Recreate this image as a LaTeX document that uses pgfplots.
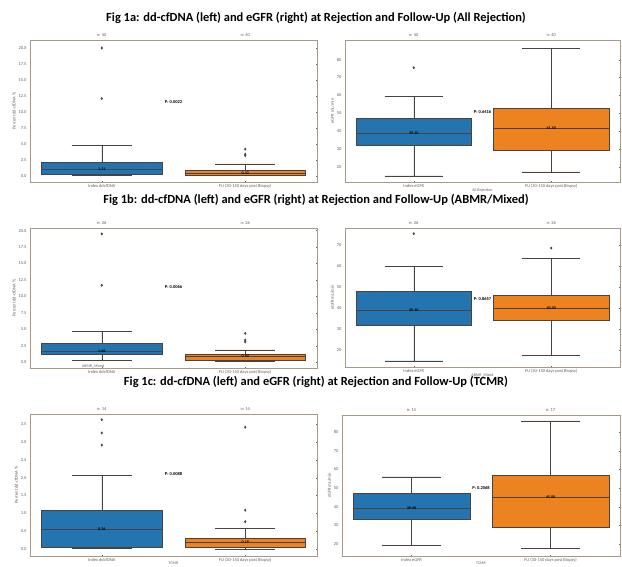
\documentclass[border=0pt]{standalone}
\usepackage{pgfplots}
\pgfplotsset{compat=1.18}
\usepgfplotslibrary{statistics}
\usepackage{fontspec}
\setmainfont{Carlito}
\definecolor{sbblue}{HTML}{2474B0}
\definecolor{sborange}{HTML}{EC8220}
\definecolor{edge}{HTML}{4A4240}
\definecolor{framec}{HTML}{A89888}
\definecolor{tickc}{HTML}{606060}
\newcommand{\tfont}{\fontsize{4.5}{5}\selectfont}
\pgfplotsset{
  panel/.style={
    scale only axis, anchor=south west, clip=false,
    axis line style={framec, line width=0.6pt},
    xmin=0.5, xmax=2.5, xtick={1,2},
    major tick length=1.5pt, tick style={tickc, line width=0.3pt},
    ticklabel style={font=\tfont, text=tickc},
    xticklabel style={yshift=1pt},
    /pgf/number format/assume math mode=true,
    ylabel style={font=\tfont, text=tickc, yshift=-4pt},
    xlabel style={font=\fontsize{4}{4.5}\selectfont, text=tickc, yshift=7pt},
    boxplot/draw direction=y,
    boxplot/box extend=0.84, boxplot/whisker extend=0.42,
  },
  pct/.style={yticklabel style={/pgf/number format/.cd, fixed, fixed zerofill, precision=1}},
  bxb/.style={fill=sbblue, draw=edge, line width=0.5pt, mark=diamond*, mark size=1.1pt, mark options={fill=edge, draw=edge}},
  bxo/.style={fill=sborange, draw=edge, line width=0.5pt, mark=diamond*, mark size=1.1pt, mark options={fill=edge, draw=edge}},
}
\newcommand{\nlab}[2]{\node[font=\tfont, anchor=south, text=tickc] at (rel axis cs:0.25,1) {n: #1};
  \node[font=\tfont, anchor=south, text=tickc] at (rel axis cs:0.75,1) {n: #2};}
\newcommand{\mlab}[3]{\node[font=\fontsize{4}{5}\selectfont\bfseries] at (axis cs:#1,#2) {#3};}
\begin{document}
\begin{tikzpicture}
\useasboundingbox (0,0) rectangle (622bp,567bp);
% titles
\node[font=\bfseries\fontsize{12.5}{14}\selectfont] at (316bp,549bp) {Fig 1a: dd-cfDNA (left) and eGFR (right) at Rejection and Follow-Up (All Rejection)};
\node[font=\bfseries\fontsize{12.5}{14}\selectfont] at (316bp,367bp) {Fig 1b: dd-cfDNA (left) and eGFR (right) at Rejection and Follow-Up (ABMR/Mixed)};
\node[font=\bfseries\fontsize{12.5}{14}\selectfont] at (316bp,185bp) {Fig 1c: dd-cfDNA (left) and eGFR (right) at Rejection and Follow-Up (TCMR)};

% ---------- 1a left ----------
\begin{axis}[panel, pct, at={(30bp,385bp)}, width=287bp, height=142bp,
  ymin=-0.94, ymax=21.25, ytick={0,2.5,...,20},
  xticklabels={Index ddcfDNA, FU (30-150 days post Biopsy)},
  ylabel={Percent dd-cfDNA \%}]
\addplot[bxb, boxplot prepared={draw position=1, lower whisker=0.05, lower quartile=0.25, median=1.1, upper quartile=2.2, upper whisker=4.8}]
  table[row sep=\\, y index=0] {20.0\\ 12.1\\};
\addplot[bxo, boxplot prepared={draw position=2, lower whisker=0.05, lower quartile=0.1, median=0.42, upper quartile=0.95, upper whisker=1.9}]
  table[row sep=\\, y index=0] {4.2\\ 3.4\\ 3.2\\};
\mlab{1}{1.1}{1.11}
\mlab{2}{0.42}{0.42}
\node[font=\fontsize{4.5}{5}\selectfont\bfseries] at (axis cs:1.5,11.6) {P: 0.0022};
\nlab{40}{40}
\end{axis}

% ---------- 1a right ----------
\begin{axis}[panel, at={(345bp,385bp)}, width=275bp, height=142bp,
  ymin=11.6, ymax=91, ytick={20,30,...,80},
  xticklabels={Index eGFR, FU (30-150 days post Biopsy)},
  ylabel={eGFR mL/min}, xlabel={All Rejection}]
\addplot[bxb, boxplot prepared={draw position=1, lower whisker=15, lower quartile=32.1, median=39.1, upper quartile=47.5, upper whisker=59.3}]
  table[row sep=\\, y index=0] {75.5\\};
\addplot[bxo, boxplot prepared={draw position=2, lower whisker=17.2, lower quartile=29.3, median=41.5, upper quartile=53.1, upper whisker=86.4}]
  coordinates {};
\mlab{1}{39.1}{39.10}
\mlab{2}{41.5}{41.50}
\node[font=\fontsize{4.5}{5}\selectfont\bfseries] at (axis cs:1.5,50.6) {P: 0.6416};
\nlab{40}{40}
\end{axis}

% ---------- 1b left ----------
\begin{axis}[panel, pct, at={(30bp,199bp)}, width=287bp, height=140bp,
  ymin=-0.86, ymax=20.4, ytick={0,2.5,...,20},
  xticklabels={Index ddcfDNA, FU (30-150 days post Biopsy)},
  ylabel={Percent dd-cfDNA \%}, xlabel={ABMR\_Mixed},
  xlabel style={at={(axis description cs:0.22,0)}, anchor=north}]
\addplot[bxb, boxplot prepared={draw position=1, lower whisker=0.25, lower quartile=1.16, median=1.66, upper quartile=2.92, upper whisker=4.7}]
  table[row sep=\\, y index=0] {19.5\\ 11.7\\};
\addplot[bxo, boxplot prepared={draw position=2, lower whisker=0.15, lower quartile=0.3, median=0.9, upper quartile=1.26, upper whisker=1.9}]
  table[row sep=\\, y index=0] {4.4\\ 3.4\\ 3.1\\};
\mlab{1}{1.66}{1.66}
\mlab{2}{0.9}{0.90}
\node[font=\fontsize{4.5}{5}\selectfont\bfseries] at (axis cs:1.5,11.5) {P: 0.0066};
\nlab{26}{26}
\end{axis}

% ---------- 1b right ----------
\begin{axis}[panel, at={(345bp,200bp)}, width=275bp, height=139bp,
  ymin=12.1, ymax=77.9, ytick={20,30,...,70},
  xticklabels={Index eGFR, FU (30-150 days post Biopsy)},
  ylabel={eGFR mL/min}, xlabel={ABMR\_Mixed}]
\addplot[bxb, boxplot prepared={draw position=1, lower whisker=15, lower quartile=31.8, median=39.1, upper quartile=47.9, upper whisker=59.7}]
  table[row sep=\\, y index=0] {75.2\\};
\addplot[bxo, boxplot prepared={draw position=2, lower whisker=17.6, lower quartile=34.2, median=40.0, upper quartile=46.3, upper whisker=63.4}]
  table[row sep=\\, y index=0] {68.4\\};
\mlab{1}{39.1}{39.10}
\mlab{2}{40.0}{40.00}
\node[font=\fontsize{4.5}{5}\selectfont\bfseries] at (axis cs:1.5,44.1) {P: 0.8657};
\nlab{26}{26}
\end{axis}

% ---------- 1c left ----------
\begin{axis}[panel, pct, at={(30bp,11bp)}, width=287bp, height=142bp,
  ymin=-0.19, ymax=3.78, ytick={0,0.5,...,3.5},
  xticklabels={Index ddcfDNA, FU (30-150 days post Biopsy)},
  ylabel={Percent dd-cfDNA \%}, xlabel={TCMR}]
\addplot[bxb, boxplot prepared={draw position=1, lower whisker=0.02, lower quartile=0.065, median=0.56, upper quartile=1.09, upper whisker=2.07}]
  table[row sep=\\, y index=0] {3.62\\ 3.25\\ 2.91\\};
\addplot[bxo, boxplot prepared={draw position=2, lower whisker=0.0, lower quartile=0.05, median=0.19, upper quartile=0.31, upper whisker=0.58}]
  table[row sep=\\, y index=0] {3.41\\ 1.09\\ 0.77\\};
\mlab{1}{0.56}{0.56}
\mlab{2}{0.19}{0.19}
\node[font=\fontsize{4.5}{5}\selectfont\bfseries] at (axis cs:1.5,2.09) {P: 0.0088};
\nlab{14}{14}
\end{axis}

% ---------- 1c right ----------
\begin{axis}[panel, at={(342bp,11bp)}, width=278bp, height=141bp,
  ymin=13.65, ymax=89.1, ytick={20,30,...,80},
  xticklabels={Index eGFR, FU (30-150 days post Biopsy)},
  ylabel={eGFR mL/min}, xlabel={TCMR}]
\addplot[bxb, boxplot prepared={draw position=1, lower whisker=19.5, lower quartile=33.1, median=39.4, upper quartile=47.3, upper whisker=56}]
  coordinates {};
\addplot[bxo, boxplot prepared={draw position=2, lower whisker=17.7, lower quartile=29.2, median=45.0, upper quartile=56.9, upper whisker=86}]
  coordinates {};
\mlab{1}{39.4}{39.40}
\mlab{2}{45.0}{45.00}
\node[font=\fontsize{4.5}{5}\selectfont\bfseries] at (axis cs:1.5,49.8) {P: 0.2068};
\nlab{15}{17}
\end{axis}
\end{tikzpicture}
\end{document}
